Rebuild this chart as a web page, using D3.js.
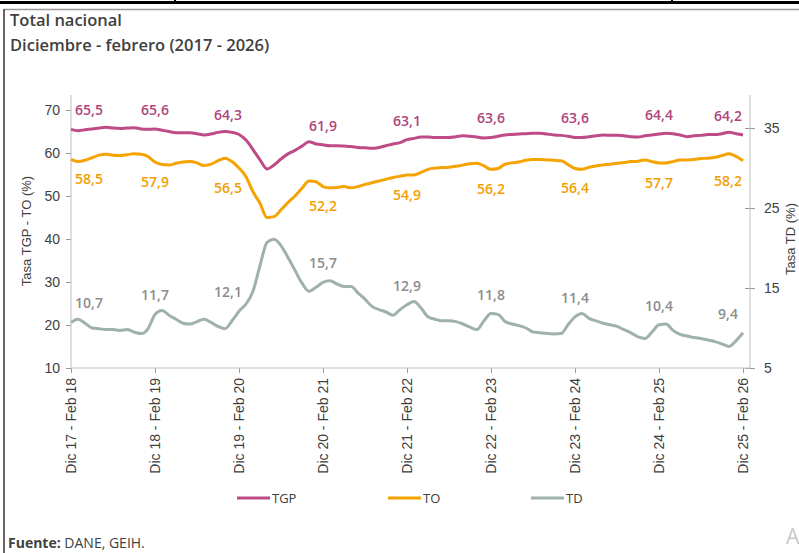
<!DOCTYPE html>
<html>
<head>
<meta charset="utf-8">
<script src="https://cdn.jsdelivr.net/npm/d3@7"></script>
<style>
  body { margin: 0; background: #fff; }
  svg { display: block; }
</style>
</head>
<body>
<div id="chart"></div>
<script>
// trimestres móviles dic 17 - feb 18 ... dic 25 - feb 26 (97 puntos)
const tickLabels = ["Dic 17 - Feb 18", "Dic 18 - Feb 19", "Dic 19 - Feb 20", "Dic 20 - Feb 21",
  "Dic 21 - Feb 22", "Dic 22 - Feb 23", "Dic 23 - Feb 24", "Dic 24 - Feb 25", "Dic 25 - Feb 26"];

const tgp = [65.5, 65.2, 65.4, 65.6, 65.8, 66.0, 65.8, 65.7, 65.8, 65.9, 65.6, 65.5,
  65.6, 65.3, 65.0, 64.7, 64.7, 64.7, 64.5, 64.2, 64.4, 64.8, 65.0, 64.8,
  64.3, 63.0, 60.8, 58.4, 56.3, 57.2, 58.6, 59.8, 60.6, 61.6, 62.6, 62.1,
  61.9, 61.7, 61.7, 61.6, 61.5, 61.3, 61.2, 61.1, 61.3, 61.7, 62.1, 62.4,
  63.1, 63.4, 63.7, 63.7, 63.6, 63.6, 63.6, 63.8, 64.0, 63.9, 63.7, 63.5,
  63.6, 63.9, 64.2, 64.3, 64.4, 64.5, 64.6, 64.6, 64.4, 64.2, 64.1, 63.9,
  63.6, 63.6, 63.8, 64.0, 64.2, 64.1, 64.1, 64.0, 63.8, 63.7, 64.0, 64.2,
  64.4, 64.6, 64.5, 64.2, 63.8, 64.0, 64.1, 64.3, 64.3, 64.5, 64.8, 64.5,
  64.2];

const to = [58.5, 58.0, 58.3, 58.9, 59.5, 59.7, 59.5, 59.4, 59.6, 59.8, 59.7, 59.2,
  57.9, 57.3, 57.2, 57.6, 57.9, 58.0, 57.7, 57.1, 57.4, 58.2, 58.8, 58.0,
  56.5, 54.5, 51.0, 48.3, 45.0, 45.2, 46.8, 48.5, 50.0, 51.8, 53.5, 53.3,
  52.2, 51.9, 52.0, 52.2, 51.9, 52.2, 52.7, 53.1, 53.5, 53.9, 54.3, 54.6,
  54.9, 54.9, 55.5, 56.2, 56.5, 56.6, 56.7, 56.9, 57.2, 57.5, 57.6, 57.0,
  56.2, 56.4, 57.4, 57.7, 57.9, 58.3, 58.5, 58.5, 58.4, 58.3, 58.2, 57.3,
  56.4, 56.2, 56.7, 57.0, 57.2, 57.4, 57.6, 57.8, 58.0, 58.1, 58.4, 58.0,
  57.7, 57.7, 58.0, 58.4, 58.4, 58.5, 58.7, 58.8, 59.0, 59.4, 59.8, 59.2,
  58.2];

const td = [10.7, 11.1, 10.6, 10.0, 9.9, 9.8, 9.8, 9.7, 9.8, 9.5, 9.3, 9.9,
  11.7, 12.2, 11.6, 11.1, 10.6, 10.5, 10.8, 11.1, 10.7, 10.2, 9.9, 10.9,
  12.1, 13.0, 14.6, 17.8, 20.7, 21.1, 20.3, 18.8, 17.2, 15.6, 14.6, 15.1,
  15.7, 15.9, 15.5, 15.2, 15.2, 14.4, 13.6, 12.7, 12.3, 12.0, 11.6, 12.3,
  12.9, 13.3, 12.5, 11.4, 11.1, 10.9, 10.9, 10.8, 10.5, 10.1, 9.8, 10.9,
  11.8, 11.7, 10.8, 10.5, 10.3, 10.0, 9.5, 9.4, 9.3, 9.25, 9.3, 10.4,
  11.4, 11.8, 11.2, 10.9, 10.6, 10.4, 10.2, 9.8, 9.4, 8.9, 8.7, 9.5,
  10.4, 10.5, 9.7, 9.2, 9.0, 8.8, 8.7, 8.5, 8.3, 8.0, 7.7, 8.4,
  9.4];

const leftTicks = [10, 20, 30, 40, 50, 60, 70];
const rightTicks = [5, 15, 25, 35];

const width = 799, height = 553;
const plot = { left: 71, right: 750, top: 95, bottom: 368 };

const svg = d3.select("#chart").append("svg")
  .attr("width", width)
  .attr("height", height);

// marco del documento
svg.append("line").attr("x1", 0).attr("x2", width).attr("y1", 2.5).attr("y2", 2.5)
  .attr("stroke", "#000").attr("stroke-width", 3);
[175, 672].forEach(px => svg.append("line").attr("x1", px).attr("x2", px)
  .attr("y1", 0).attr("y2", 3).attr("stroke", "#000").attr("stroke-width", 2));
svg.append("line").attr("x1", 4).attr("x2", width).attr("y1", 9.5).attr("y2", 9.5)
  .attr("stroke", "#9a9a9a").attr("stroke-width", 1.5);
svg.append("line").attr("x1", 4).attr("x2", 4).attr("y1", 9).attr("y2", height)
  .attr("stroke", "#333").attr("stroke-width", 1.5);

svg.append("text").attr("x", 10).attr("y", 26)
  .attr("font-family", "Open Sans").attr("font-weight", 600).attr("font-size", 16.5)
  .attr("fill", "#404040").text("Total nacional");
svg.append("text").attr("x", 10).attr("y", 51)
  .attr("font-family", "Open Sans").attr("font-weight", 600).attr("font-size", 16.5)
  .attr("fill", "#404040").text("Diciembre - febrero (2017 - 2026)");

const x = d3.scaleLinear().domain([0, 97]).range([plot.left, plot.right]);
const yL = d3.scaleLinear().domain([10, 70]).range([368, 110]);
const yR = d3.scaleLinear().domain([5, 35]).range([368, 128]);

const axisFont = "Liberation Sans, Arial, sans-serif";

// eje izquierdo
const gL = svg.append("g").attr("transform", `translate(${plot.left},0)`)
  .call(d3.axisLeft(yL).tickValues(leftTicks).tickSize(5).tickPadding(6));
gL.select(".domain").remove();
gL.append("line").attr("y1", plot.top).attr("y2", plot.bottom).attr("stroke", "#bfbfbf");
gL.selectAll(".tick line").attr("stroke", "#9a9a9a");
gL.selectAll("text").attr("font-family", axisFont).attr("font-size", 14).attr("fill", "#404040");

// eje derecho
const gR = svg.append("g").attr("transform", `translate(${plot.right},0)`)
  .call(d3.axisRight(yR).tickValues(rightTicks).tickSize(5).tickPadding(9));
gR.select(".domain").remove();
gR.append("line").attr("y1", plot.top).attr("y2", plot.bottom).attr("stroke", "#bfbfbf");
gR.selectAll(".tick line").attr("x1", -5).attr("stroke", "#9a9a9a");
gR.selectAll("text").attr("font-family", axisFont).attr("font-size", 14).attr("fill", "#404040");

// eje x
const gX = svg.append("g").attr("transform", `translate(0,${plot.bottom})`)
  .call(d3.axisBottom(x).tickValues(d3.range(0, 97, 12)).tickSize(5)
    .tickFormat((d, i) => tickLabels[i]));
gX.select(".domain").remove();
gX.append("line").attr("x1", plot.left).attr("x2", plot.right).attr("stroke", "#bfbfbf");
gX.selectAll(".tick line").attr("stroke", "#9a9a9a");
gX.selectAll("text")
  .attr("font-family", axisFont).attr("font-size", 14).attr("fill", "#404040")
  .attr("text-anchor", "end")
  .attr("transform", "rotate(-90)")
  .attr("x", -10).attr("y", 0).attr("dy", "0.35em");

// títulos de ejes
svg.append("text").attr("transform", "translate(31,231) rotate(-90)")
  .attr("text-anchor", "middle").attr("font-family", axisFont).attr("font-size", 13)
  .attr("fill", "#404040").text("Tasa TGP - TO (%)");
svg.append("text").attr("transform", "translate(795,239) rotate(-90)")
  .attr("text-anchor", "middle").attr("font-family", axisFont).attr("font-size", 13)
  .attr("fill", "#404040").text("Tasa TD (%)");

const series = [
  { name: "TGP", values: tgp, y: yL, color: "#be4b86", label: "#b0447c", dy: -19 },
  { name: "TO", values: to, y: yL, color: "#f5a300", label: "#f29e00", dy: 20 },
  { name: "TD", values: td, y: yR, color: "#9fb1ae", label: "#8c8c8c", dy: -19 }
];

const fmt = v => d3.format(".1f")(v).replace(".", ",");
// las etiquetas de dic 19 - feb 20 van corridas a la izquierda
const labelShift = i => (i === 24 ? -11 : 0);

series.forEach(s => {
  const line = d3.line()
    .x((d, i) => x(i))
    .y(d => s.y(d))
    .curve(d3.curveMonotoneX);
  svg.append("path").datum(s.values)
    .attr("fill", "none").attr("stroke", s.color).attr("stroke-width", 3)
    .attr("stroke-linejoin", "round").attr("d", line);

  const idx = d3.range(0, 97, 12);
  svg.append("g").selectAll("text").data(idx).join("text")
    .attr("x", i => Math.max(plot.left + 18, Math.min(plot.right - 22, x(i) + labelShift(i))))
    .attr("y", i => s.y(s.values[i]) + s.dy)
    .attr("dy", "0.35em")
    .attr("text-anchor", "middle")
    .attr("font-family", "Open Sans").attr("font-weight", 600).attr("font-size", 14)
    .attr("fill", s.label)
    .text(i => fmt(s.values[i]));
});

// leyenda
const legendX = [237, 388, 531];
series.forEach((s, k) => {
  const g = svg.append("g").attr("transform", `translate(${legendX[k]},498)`);
  g.append("line").attr("x1", 0).attr("x2", 33).attr("stroke", s.color).attr("stroke-width", 3);
  g.append("text").attr("x", 35).attr("dy", "0.35em")
    .attr("font-family", "Open Sans").attr("font-size", 13).attr("fill", "#404040")
    .text(s.name);
});

const src = svg.append("text").attr("x", 8).attr("y", 548)
  .attr("font-family", "Open Sans").attr("font-size", 14).attr("fill", "#404040");
src.append("tspan").attr("font-weight", 700).text("Fuente:");
src.append("tspan").text(" DANE, GEIH.");

svg.append("text").attr("x", 786).attr("y", 544)
  .attr("font-family", "Open Sans").attr("font-size", 21).attr("fill", "#c8c8c8").text("A");
</script>
</body>
</html>
